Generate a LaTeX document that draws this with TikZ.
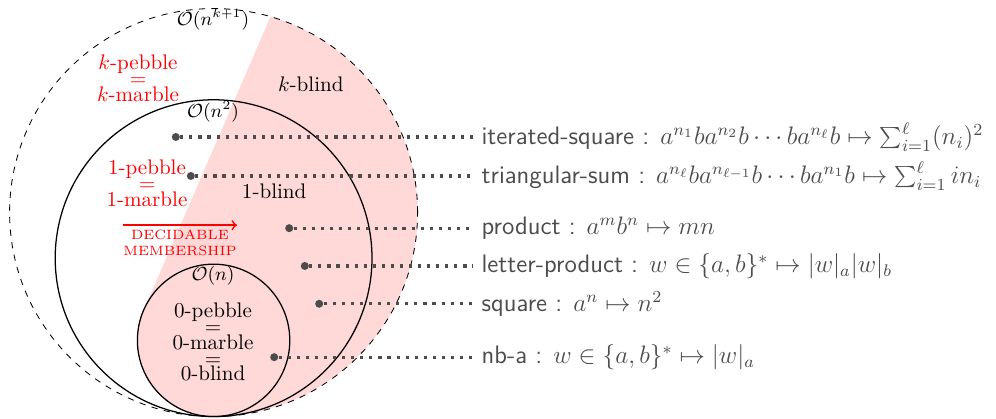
\documentclass[tikz,border=0pt]{standalone}
\definecolor{blindpink}{RGB}{255,216,216}
\begin{document}
\begin{tikzpicture}[
    cplx/.style={font=\small, inner sep=1pt},
    eqlbl/.style={align=center, text=red},
    blindlbl/.style={align=center},
    langdot/.style={circle, fill=black!70, inner sep=0pt, minimum size=3.8pt},
    lang/.style={anchor=west, text=black!70, inner xsep=4pt, inner ysep=2pt, font=\large},
    leader/.style={black!70, line width=1.5pt, dash pattern=on 1.5pt off 2.8pt}
  ]
    \useasboundingbox (0,0) rectangle (16.6,6.983);
    \coordinate (kblindtop) at ([shift={(73.8:3.40)}]3.56,3.44);
    \coordinate (tangent) at ([shift={(157.5:1.27)}]3.56,1.31);
    \fill[blindpink] (tangent) -- (kblindtop) arc[start angle=73.8, end angle=-90, radius=3.40]
      arc[start angle=270, end angle=157.5, radius=1.27] -- cycle;
    \fill[blindpink] (3.56,1.31) circle (1.27);
    \draw[dashed] (3.56,3.44) circle (3.40);
    \draw[semithick] (3.56,2.68) circle (2.64);
    \draw[semithick] (3.56,1.31) circle (1.27);
    \node[cplx] (ok) at (3.55,6.66) {$\mathcal{O}(n^{k+1})$};
    \node[cplx] (o2) at (3.55,5.12) {$\mathcal{O}(n^2)$};
    \node[cplx] (o1) at (3.55,2.38) {$\mathcal{O}(n)$};
    \node[eqlbl] (keq) at (2.30,5.68) {$k$-pebble\\[-4.5pt]=\\[-4.5pt]$k$-marble};
    \node[eqlbl] (oneeq) at (2.45,3.93) {1-pebble\\[-4.5pt]=\\[-4.5pt]1-marble};
    \node[blindlbl] (kblind) at (5.18,5.57) {$k$-blind};
    \node[blindlbl] (oneblind) at (4.57,3.80) {1-blind};
    \node[blindlbl] (zeroeq) at (3.55,1.28) {0-pebble\\[-4.5pt]=\\[-4.5pt]0-marble\\[-4.5pt]=\\[-4.5pt]0-blind};
    \coordinate (decstart) at (2.05,3.23);
    \coordinate (decend) at (3.95,3.23);
    \draw[red, thick, ->] (decstart) -- (decend);
    \node[eqlbl, font=\fontsize{6.4}{7.6}\selectfont] (dec) at (3.0,2.93) {DECIDABLE\\MEMBERSHIP};
    \node[langdot] (isqdot) at (2.93,4.70) {};
    \node[langdot] (trisumdot) at (3.18,4.05) {};
    \node[langdot] (proddot) at (4.82,3.18) {};
    \node[langdot] (lproddot) at (5.08,2.55) {};
    \node[langdot] (sqdot) at (5.32,1.92) {};
    \node[langdot] (nbadot) at (4.57,1.03) {};
    \node[lang] (isq) at (7.88,4.70) {\textsf{iterated-square :} $a^{n_1}ba^{n_2}b\cdots ba^{n_\ell}b \mapsto \sum_{i=1}^{\ell}(n_i)^2$};
    \node[lang] (trisum) at (7.88,4.05) {\textsf{triangular-sum :} $a^{n_\ell}ba^{n_{\ell-1}}b\cdots ba^{n_1}b \mapsto \sum_{i=1}^{\ell} in_i$};
    \node[lang] (prod) at (7.88,3.18) {\textsf{product :} $a^mb^n \mapsto mn$};
    \node[lang] (lprod) at (7.88,2.55) {\textsf{letter-product :} $w\in\{a,b\}^* \mapsto |w|_a|w|_b$};
    \node[lang] (sq) at (7.88,1.92) {\textsf{square :} $a^n \mapsto n^2$};
    \node[lang] (nba) at (7.88,1.03) {\textsf{nb-a :} $w\in\{a,b\}^* \mapsto |w|_a$};
    \draw[leader] (isqdot) -- (isq.west);
    \draw[leader] (trisumdot) -- (trisum.west);
    \draw[leader] (proddot) -- (prod.west);
    \draw[leader] (lproddot) -- (lprod.west);
    \draw[leader] (sqdot) -- (sq.west);
    \draw[leader] (nbadot) -- (nba.west);
  \end{tikzpicture}
\end{document}
